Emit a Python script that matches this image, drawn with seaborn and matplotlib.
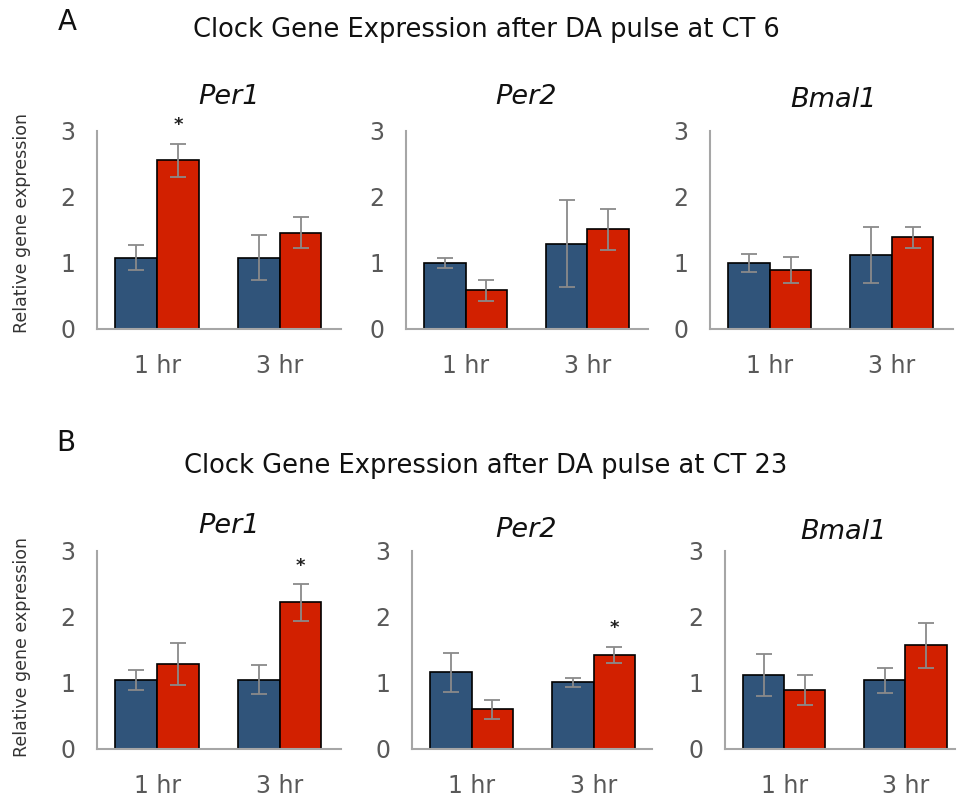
import matplotlib
matplotlib.use("Agg")
import matplotlib.pyplot as plt
import seaborn as sns
import pandas as pd

# ---------------- data ----------------
genes = ["Per1", "Per2", "Bmal1"]
times = ["1 hr", "3 hr"]
groups = ["Control", "DA"]
yticks = [0, 1, 2, 3]
ylabel = "Relative gene expression"
titles = ["Clock Gene Expression after DA pulse at CT 6",
          "Clock Gene Expression after DA pulse at CT 23"]
panel_letters = ["A", "B"]

# CT 6 (panel A): means per gene, [1 hr, 3 hr]
ct6_ctrl_mean = {"Per1": [1.08, 1.08], "Per2": [1.00, 1.29], "Bmal1": [1.00, 1.12]}
ct6_da_mean = {"Per1": [2.56, 1.46], "Per2": [0.59, 1.51], "Bmal1": [0.89, 1.39]}
ct6_ctrl_err = {"Per1": [0.19, 0.34], "Per2": [0.07, 0.66], "Bmal1": [0.13, 0.43]}
ct6_da_err = {"Per1": [0.25, 0.23], "Per2": [0.16, 0.31], "Bmal1": [0.20, 0.16]}

# CT 23 (panel B)
ct23_ctrl_mean = {"Per1": [1.05, 1.05], "Per2": [1.16, 1.01], "Bmal1": [1.12, 1.04]}
ct23_da_mean = {"Per1": [1.29, 2.22], "Per2": [0.60, 1.43], "Bmal1": [0.89, 1.57]}
ct23_ctrl_err = {"Per1": [0.15, 0.22], "Per2": [0.30, 0.07], "Bmal1": [0.32, 0.19]}
ct23_da_err = {"Per1": [0.32, 0.28], "Per2": [0.14, 0.12], "Bmal1": [0.23, 0.34]}

# significance markers (gene, time) on DA bars
ct6_sig = [("Per1", "1 hr")]
ct23_sig = [("Per1", "3 hr"), ("Per2", "3 hr")]

# ---------------- style ----------------
sns.set_theme(style="white")
plt.rcParams["font.family"] = ["DejaVu Sans"]
colors = {"Control": "#30547A", "DA": "#D22000"}
axis_gray = "#A6A6A6"
tick_gray = "#595959"
err_gray = "#8A8A8A"

W, H = 961, 801
fig = plt.figure(figsize=(W / 100, H / 100), dpi=100)

def px_axes(x0, x1, ytop, ybot):
    return fig.add_axes([x0 / W, 1 - ybot / H, (x1 - x0) / W, (ybot - ytop) / H])

# layout (pixels): x0, x1 per gene, rows ytop/ybot, xlim right
layout = {
    0: {"rows": (131, 329), "x": [(97, 341, 1.50), (406, 648, 1.50), (710, 953, 1.50)],
        "gt": [(229, 97), (526, 97), (833, 100)], "ylab_y": 0.535},
    1: {"rows": (551, 749), "x": [(97, 341, 1.50), (412, 652, 1.48), (725, 955, 1.41)],
        "gt": [(229, 526), (526, 530), (843, 532)], "ylab_y": 0.515},
}

panels = [
    (ct6_ctrl_mean, ct6_da_mean, ct6_ctrl_err, ct6_da_err, ct6_sig),
    (ct23_ctrl_mean, ct23_da_mean, ct23_ctrl_err, ct23_da_err, ct23_sig),
]

for p, (cm, dm, ce, de, sig) in enumerate(panels):
    ytop, ybot = layout[p]["rows"]
    for g, gene in enumerate(genes):
        x0, x1, xr = layout[p]["x"][g]
        ax = px_axes(x0, x1, ytop, ybot)
        df = pd.DataFrame({
            "time": times * 2,
            "group": [groups[0]] * 2 + [groups[1]] * 2,
            "value": cm[gene] + dm[gene],
        })
        sns.barplot(data=df, x="time", y="value", hue="group", order=times,
                    hue_order=groups, palette=colors, width=0.68, gap=0,
                    saturation=1, errorbar=None, edgecolor="black", linewidth=1.2,
                    legend=False, ax=ax, zorder=2)
        errs = {groups[0]: ce[gene], groups[1]: de[gene]}
        for cont, grp in zip(ax.containers, groups):
            for bar, e, t in zip(cont, errs[grp], times):
                xc = bar.get_x() + bar.get_width() / 2
                yv = bar.get_height()
                ax.errorbar(xc, yv, yerr=e, color=err_gray, elinewidth=1.3,
                            capsize=6, capthick=1.3, zorder=3)
                if grp == "DA" and (gene, t) in sig:
                    ax.text(xc, yv + e + 0.28, "*", ha="center", va="center",
                            fontsize=13, fontweight="bold", color="#222222",
                            clip_on=False)
        ax.set_ylim(0, 3)
        ax.set_xlim(-0.49, xr)
        ax.set_yticks(yticks)
        ax.set_xlabel("")
        ax.set_ylabel("")
        for s in ["top", "right"]:
            ax.spines[s].set_visible(False)
        for s in ["left", "bottom"]:
            ax.spines[s].set_color(axis_gray)
            ax.spines[s].set_linewidth(1.5)
        ax.tick_params(axis="y", direction="out", length=6.5, width=1.5,
                       color=axis_gray, labelcolor=tick_gray, labelsize=17, pad=9)
        ax.tick_params(axis="x", length=0, labelcolor=tick_gray, labelsize=17, pad=18)
        ax.grid(False)
        ax.set_facecolor("white")
        gx, gy = layout[p]["gt"][g]
        fig.text(gx / W, 1 - gy / H, gene, ha="center", va="center",
                 fontsize=19.5, style="italic", color="#111111")
        if g == 0:
            ax.set_ylabel(ylabel, fontsize=12.5, color="#333333", labelpad=0)
            ax.yaxis.set_label_coords(-(97 - 31) / (x1 - x0), layout[p]["ylab_y"])

# panel letters and titles
fig.text(67 / W, 1 - 22 / H, panel_letters[0], ha="center", va="center", fontsize=20, color="#111111")
fig.text(486 / W, 1 - 30 / H, titles[0], ha="center", va="center", fontsize=18.5, color="#111111")
fig.text(66 / W, 1 - 443 / H, panel_letters[1], ha="center", va="center", fontsize=20, color="#111111")
fig.text(486 / W, 1 - 466 / H, titles[1], ha="center", va="center", fontsize=18.5, color="#111111")

fig.savefig("out.png", dpi=100, facecolor="white")
